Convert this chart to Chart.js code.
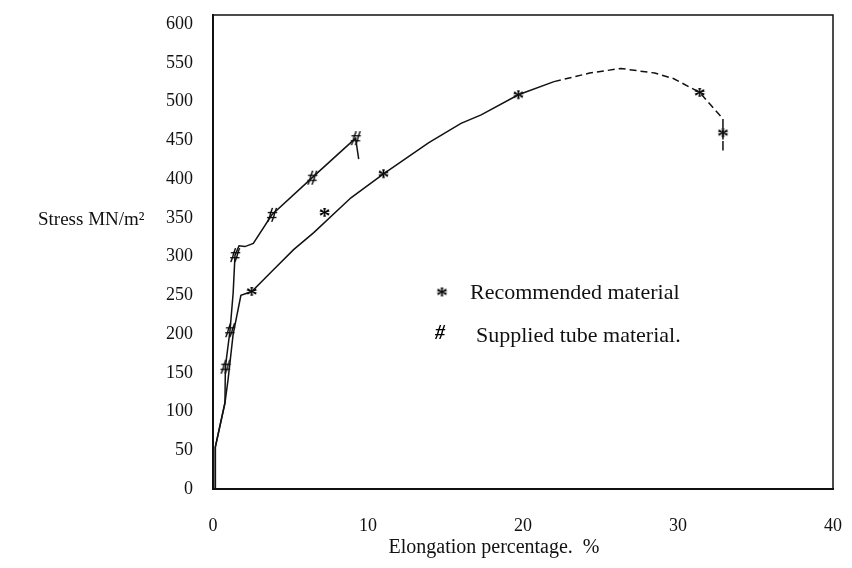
<!DOCTYPE html>
<html>
<head>
<meta charset="utf-8">
<script src="https://cdn.jsdelivr.net/npm/chart.js@4.4.1/dist/chart.umd.min.js"></script>
<style>
  html, body { margin: 0; padding: 0; background: #fff; }
</style>
</head>
<body>
<canvas id="myChart" width="852" height="568"></canvas>
<script>
// recommended material - traced curve (elongation %, stress MN/m2)
const recX = [0.15, 0.15, 0.77, 0.97, 1.3, 1.8, 2.5, 3.9, 5.2, 6.5, 8.9, 11.0, 13.9, 16.0, 17.3, 19.7, 22.0, 24.3, 26.3, 28.5, 29.7, 31.4, 32.1, 32.9, 32.9];
const recY = [0, 54, 111, 141, 200, 250, 255, 283, 309, 331, 376, 407, 447, 472, 483, 509, 526, 537, 543, 537, 530, 512, 496, 478, 437];
// recommended material - measured points (*)
const recMarkX = [2.5, 7.2, 11.0, 19.7, 31.4, 32.9];
const recMarkY = [255, 357, 407, 509, 512, 460];

// supplied tube material - traced curve
const supX = [0.15, 0.15, 0.77, 0.8, 1.1, 1.3, 1.42, 1.68, 2.06, 2.6, 3.8, 6.4, 8.6, 9.2, 9.4];
const supY = [0, 54, 111, 158, 205, 253, 302, 314, 313, 317, 354, 402, 442, 453, 426];
// supplied tube material - measured points (#)
const supMarkX = [0.8, 1.1, 1.42, 3.8, 6.4, 9.2];
const supMarkY = [158, 205, 302, 354, 402, 453];

const xTicks = [0, 10, 20, 30, 40];
const yTicks = [0, 50, 100, 150, 200, 250, 300, 350, 400, 450, 500, 550, 600];
const seriesNames = ['Recommended material', 'Supplied tube material.'];

const SERIF = '"Liberation Serif", "Times New Roman", serif';
Chart.defaults.font.family = SERIF;
Chart.defaults.color = '#111';

const pts = (xs, ys) => xs.map((x, i) => ({ x: x, y: ys[i] }));

// text glyph used as a point marker
function glyph(ch, px, style) {
    const c = document.createElement('canvas');
    c.width = c.height = Math.ceil(px * 1.1);
    const g = c.getContext('2d');
    g.font = style + ' ' + px + 'px ' + SERIF;
    g.fillStyle = '#000';
    const m = g.measureText(ch);
    const w = m.actualBoundingBoxLeft + m.actualBoundingBoxRight;
    const h = m.actualBoundingBoxAscent + m.actualBoundingBoxDescent;
    g.fillText(ch, (c.width - w) / 2 + m.actualBoundingBoxLeft, (c.height - h) / 2 + m.actualBoundingBoxAscent);
    return c;
}
const starMark = glyph('*', 24, 'bold');
const hashMark = glyph('#', 20, 'italic bold');

const extras = {
    id: 'extras',
    afterDraw(chart) {
        const ctx = chart.ctx;
        const a = chart.chartArea;
        ctx.save();
        // frame
        ctx.strokeStyle = '#111';
        ctx.lineWidth = 1.5;
        ctx.strokeRect(a.left, a.top, a.right - a.left, a.bottom - a.top);
        ctx.fillStyle = '#111';
        ctx.textBaseline = 'middle';
        // axis titles
        ctx.font = '19px ' + SERIF;
        ctx.textAlign = 'left';
        ctx.fillText('Stress MN/m\u00b2', 38, 220);
        ctx.textAlign = 'center';
        ctx.font = '20px ' + SERIF;
        ctx.fillText('Elongation percentage.  %', 494, 548);
        // legend
        ctx.font = '22px ' + SERIF;
        ctx.textAlign = 'left';
        ctx.drawImage(starMark, 442 - starMark.width / 2, 292 - starMark.height / 2);
        ctx.fillText(seriesNames[0], 470, 293);
        ctx.drawImage(hashMark, 440 - hashMark.width / 2, 332 - hashMark.height / 2);
        ctx.fillText(seriesNames[1], 476, 336);
        ctx.restore();
    }
};

const data = {
    datasets: [{
        label: seriesNames[0],
        data: pts(recX, recY),
        showLine: true,
        borderColor: '#111',
        borderWidth: 1.5,
        pointRadius: 0,
        tension: 0,
        segment: {
            borderDash: c => c.p0.parsed.x >= 22 ? [7, 4] : undefined
        }
    }, {
        label: seriesNames[1],
        data: pts(supX, supY),
        showLine: true,
        borderColor: '#111',
        borderWidth: 1.5,
        pointRadius: 0,
        tension: 0
    }, {
        label: seriesNames[0] + ' points',
        data: pts(recMarkX, recMarkY),
        showLine: false,
        pointStyle: starMark
    }, {
        label: seriesNames[1] + ' points',
        data: pts(supMarkX, supMarkY),
        showLine: false,
        pointStyle: hashMark
    }]
};

// invisible tick marks keep the labels off the axis lines
const hiddenTicks = len => ({
    display: true,
    drawOnChartArea: false,
    drawTicks: true,
    tickLength: len,
    tickColor: 'rgba(0,0,0,0)'
});

const config = {
    type: 'scatter',
    data: data,
    options: {
        responsive: false,
        animation: false,
        layout: {
            padding: { top: 15, right: 19, left: 0, bottom: 0 }
        },
        plugins: {
            legend: { display: false },
            tooltip: { enabled: false }
        },
        scales: {
            x: {
                type: 'linear',
                min: 0,
                max: 40,
                afterBuildTicks: s => { s.ticks = xTicks.map(v => ({ value: v })); },
                afterFit: s => { s.height = 79; },
                grid: hiddenTicks(26),
                border: { color: '#111', width: 2 },
                ticks: { font: { size: 18 }, padding: 0, maxRotation: 0 }
            },
            y: {
                type: 'linear',
                min: 0,
                max: 612,
                afterBuildTicks: s => { s.ticks = yTicks.map(v => ({ value: v })); },
                afterFit: s => { s.width = 213; },
                grid: hiddenTicks(20),
                border: { color: '#111', width: 2 },
                ticks: { font: { size: 18 }, padding: 0 }
            }
        }
    },
    plugins: [extras]
};

const ctx = document.getElementById('myChart');
new Chart(ctx, config);
</script>
</body>
</html>
